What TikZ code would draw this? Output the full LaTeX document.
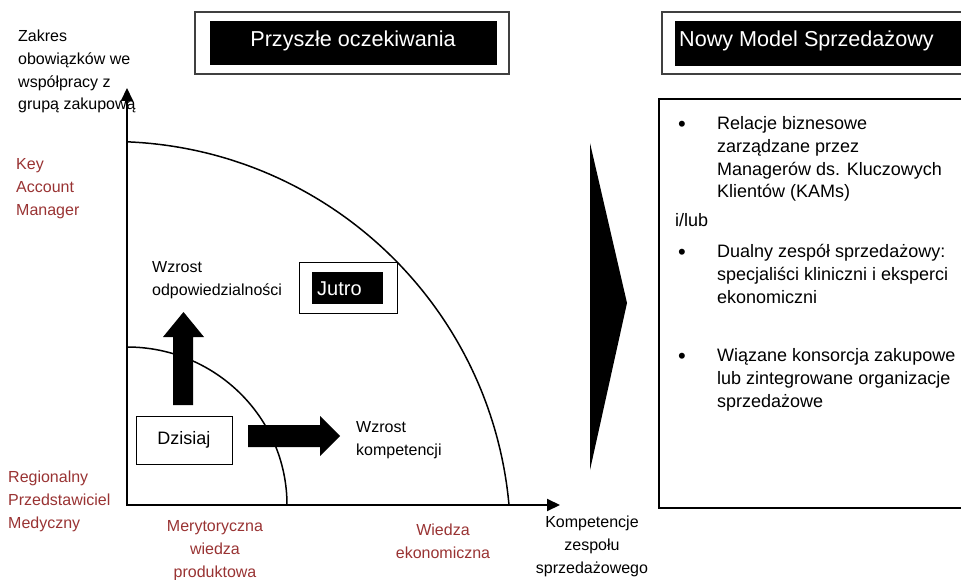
\documentclass[tikz,border=0pt]{standalone}
\usepackage{fontspec}
\setmainfont{Liberation Sans}
\usetikzlibrary{arrows.meta}
\definecolor{accred}{RGB}{153,51,51}
\begin{document}
\begin{tikzpicture}[x=1pt,y=-1pt,
  txt/.style={inner sep=0pt,font=\fontsize{16}{22.7}\selectfont},
  redtxt/.style={txt,text=accred},
  bodytxt/.style={inner sep=0pt,font=\fontsize{18}{22.7}\selectfont},
  bullet/.style={inner sep=0pt,font=\fontsize{22}{24}\selectfont,anchor=base},
  titletxt/.style={inner sep=0pt,text=white,font=\fontsize{21.6}{26}\selectfont},
  axisline/.style={line width=2pt,{Triangle[length=13pt,width=12pt]}-{Triangle[length=13pt,width=12pt]}},
  curve/.style={line width=1.5pt},
  framebox/.style={draw=black!75,line width=1.5pt},
  plainbox/.style={draw,line width=1pt,inner sep=0pt},
]
\path[use as bounding box] (0,0) rectangle (961,580);

% title banners
\draw[framebox] (195,12) rectangle (509,74);
\fill (210,21) rectangle (497,65);
\node[titletxt,anchor=base] (title1) at (353,47) {Przyszłe oczekiwania};

\draw[framebox] (962,12) -- (662,12) -- (662,74) -- (962,74);
\fill (675,21) rectangle (962,66);
\node[titletxt,anchor=base west] (title2) at (679,47) {Nowy Model Sprzedażowy};

% axis labels (multi-line nodes are placed by the baseline of their last line)
\node[txt,anchor=base west,align=left] (ylabel) at (18,110) {Zakres\\obowiązków we\\współpracy z\\grupą zakupową};
\node[redtxt,anchor=base west,align=left] (kam) at (16,215) {Key\\Account\\Manager};
\node[redtxt,anchor=base west,align=left] (rpm) at (8,528) {Regionalny\\Przedstawiciel\\Medyczny};
\node[redtxt,anchor=base,align=center] (mwp) at (215,577) {Merytoryczna\\wiedza\\produktowa};
\node[redtxt,anchor=base,align=center] (wek) at (443,558) {Wiedza\\ekonomiczna};
\node[txt,anchor=base,align=center] (xlabel) at (592,573) {Kompetencje\\zespołu\\sprzedażowego};

% axes
\coordinate (O) at (127,505);
\coordinate (ytip) at (127,88);
\coordinate (xtip) at (560,505);
\draw[axisline] (ytip) -- (O) -- (xtip);

% outer boundary: circular arc whose centre lies below-left of the origin
\draw[curve] (509,505) arc[start angle=5.17,end angle=87.7,radius=399.5pt];
% inner boundary
\draw[curve] (287,505) arc[start angle=0,end angle=90,x radius=160pt,y radius=158pt];

% growth arrows
\fill (173,405) -- (173,337) -- (163,337) -- (183.5,312) -- (204,337) -- (193,337) -- (193,405) -- cycle;
\fill (248,425) -- (320,425) -- (320,416) -- (340,436) -- (320,456) -- (320,447) -- (248,447) -- cycle;
\node[txt,anchor=base west,align=left] (wresp) at (152,295) {Wzrost\\odpowiedzialności};
\node[txt,anchor=base west,align=left] (wcomp) at (356,455) {Wzrost\\kompetencji};

% today / tomorrow
\node[plainbox,bodytxt,minimum width=96pt,minimum height=48pt] (today) at (184,440) {Dzisiaj};
\node[plainbox,minimum width=98pt,minimum height=51pt] (tomorrow) at (348,287.5) {};
\fill (312,272) rectangle (383,304);
\node[inner sep=0pt,text=white,font=\fontsize{20}{24}\selectfont,anchor=base west] (jutro) at (317,295) {Jutro};

% big chevron
\fill (590,143) -- (627,303) -- (590,470) -- cycle;

% right panel
\draw[line width=1.3pt] (962,99) -- (659,99) -- (659,508) -- (962,508);
\node[bullet] (b1) at (682,132) {\textbullet};
\node[bodytxt,anchor=base west,align=left] (r1) at (717,198) {Relacje biznesowe\\zarządzane przez\\Managerów ds. Kluczowych\\Klientów (KAMs)};
\node[bodytxt,anchor=base west] (orr) at (675,226) {i/lub};
\node[bullet] (b2) at (682,259) {\textbullet};
\node[bodytxt,anchor=base west,align=left] (r2) at (717,303) {Dualny zespół sprzedażowy:\\specjaliści kliniczni i eksperci\\ekonomiczni};
\node[bullet] (b3) at (682,363) {\textbullet};
\node[bodytxt,anchor=base west,align=left] (r3) at (717,407) {Wiązane konsorcja zakupowe\\lub zintegrowane organizacje\\sprzedażowe};
\end{tikzpicture}
\end{document}
